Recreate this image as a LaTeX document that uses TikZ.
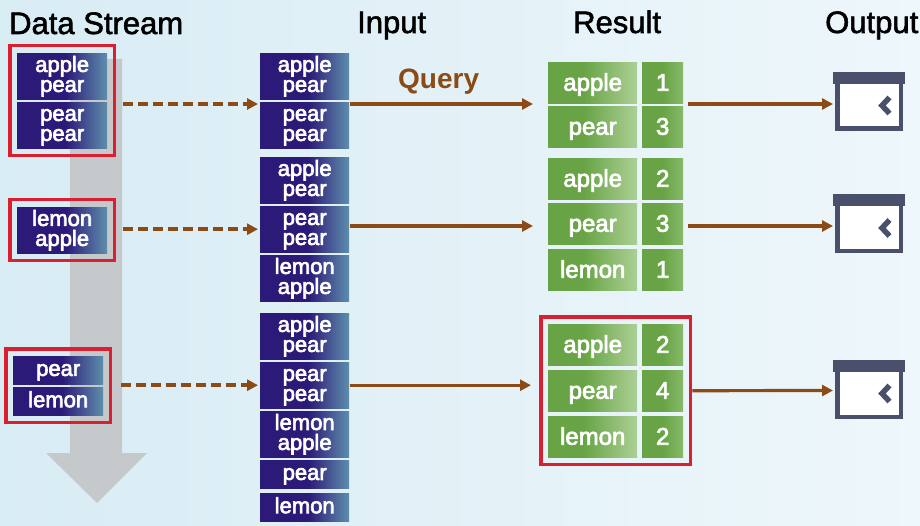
\documentclass[tikz,border=0pt]{standalone}
\usepackage{fontspec}
\setmainfont{Liberation Sans}
\newfontfamily\medfont{Liberation Sans}[FakeBold=3]
\newfontfamily\titfont{Liberation Sans}[FakeBold=1.8]
\usetikzlibrary{arrows.meta,calc,fit}
\definecolor{indigo}{RGB}{44,26,120}
\definecolor{tealb}{RGB}{94,142,172}
\definecolor{grn}{RGB}{104,164,70}
\definecolor{grnlight}{RGB}{172,208,150}
\definecolor{grnnum}{RGB}{134,186,104}
\definecolor{redf}{RGB}{218,32,48}
\definecolor{brownc}{RGB}{139,74,22}
\definecolor{grayarrow}{RGB}{196,198,200}
\definecolor{iconcol}{RGB}{74,80,108}
\definecolor{bgL}{RGB}{216,236,244}
\definecolor{bgR}{RGB}{238,247,251}
\pgfdeclarehorizontalshading{blueshade}{100bp}{color(0bp)=(indigo); color(52bp)=(indigo); color(75bp)=(tealb); color(100bp)=(tealb)}
\pgfdeclarehorizontalshading{greenshade}{100bp}{color(0bp)=(grn); color(45bp)=(grn); color(75bp)=(grnlight); color(100bp)=(grnlight)}
\pgfdeclarehorizontalshading{numshade}{100bp}{color(0bp)=(grn); color(50bp)=(grn); color(75bp)=(grnnum); color(100bp)=(grnnum)}
\newcommand\tp{\rule{0pt}{16pt}}
\newcommand\bt{\rule[-4pt]{0pt}{4pt}}
\tikzset{
  bluebox/.style={shade, shading=blueshade, text=white, font=\fontsize{22}{20}\selectfont\medfont,
    align=center, inner sep=0pt, minimum width=89, minimum height=46, anchor=north west},
  blueone/.style={bluebox, minimum height=28},
  dsbox/.style={bluebox, minimum width=90},
  wordbox/.style={shade, shading=greenshade, text=white, font=\fontsize{24}{24}\selectfont\medfont,
    inner sep=0pt, text height=18pt, text depth=2pt, minimum width=89, minimum height=41, anchor=north west},
  numbox/.style={wordbox, shading=numshade, minimum width=41},
  redframe/.style={draw=redf, line width=3.5pt, inner sep=7.25pt},
  title/.style={font=\fontsize{31}{31}\selectfont\titfont, anchor=base west, inner sep=0pt},
  dasharr/.style={draw=brownc, line width=3.5pt, dash pattern=on 10pt off 5pt,
    -{Triangle[length=11pt,width=11pt]}},
  solidarr/.style={draw=brownc, line width=3.2pt, -{Triangle[length=11pt,width=11pt]}},
  icon/.style={draw=iconcol, line width=4.5pt, fill=white, minimum width=63.5,
    minimum height=52.5, inner sep=0pt},
  chev/.style={draw=iconcol, line width=5.5pt, line join=miter}
}
\begin{document}
\begin{tikzpicture}[x=1pt,y=-1pt]
\useasboundingbox (0,0) rectangle (920,526);
\shade[left color=bgL, right color=bgR] (0,0) rectangle (920,526);

% titles
\node[title] (t1) at (9,34) {Data Stream};
\node[title] (t2) at (357,33) {Input};
\node[title] (t3) at (573,33) {Result};
\node[title] (t4) at (825,33) {Output};

% gray stream arrow
\fill[grayarrow, opacity=0.9] (70,59) -- (122,59) -- (122,453) -- (147,453) -- (97,503) -- (46,453) -- (70,453) -- cycle;

% data stream
\node[dsbox] (d1a) at (17,53) {\tp apple\\pear\bt};
\node[dsbox] (d1b) at (17,102) {\tp pear\\pear\bt};
\node[dsbox] (d2a) at (17,207) {\tp lemon\\apple\bt};
\node[dsbox, minimum height=28] (d3a) at (13,356) {\tp pear\bt};
\node[dsbox, minimum height=28] (d3b) at (13,387) {\tp lemon\bt};
\node[redframe, fit=(d1a)(d1b)] (r1) {};
\node[redframe, fit=(d2a)] (r2) {};
\node[redframe, fit=(d3a)(d3b)] (r3) {};

% input
\node[bluebox] (i1a) at (260,53) {\tp apple\\pear\bt};
\node[bluebox] (i1b) at (260,102) {\tp pear\\pear\bt};
\node[bluebox] (i2a) at (260,157) {\tp apple\\pear\bt};
\node[bluebox] (i2b) at (260,206) {\tp pear\\pear\bt};
\node[bluebox] (i2c) at (260,255) {\tp lemon\\apple\bt};
\node[bluebox] (i3a) at (260,313) {\tp apple\\pear\bt};
\node[bluebox] (i3b) at (260,362) {\tp pear\\pear\bt};
\node[bluebox] (i3c) at (260,411) {\tp lemon\\apple\bt};
\node[blueone] (i3d) at (260,460) {\tp pear\bt};
\node[blueone] (i3e) at (260,493) {\tp lemon\bt};

\node[font=\bfseries\fontsize{28}{28}\selectfont, text=brownc, anchor=base west, inner sep=0pt] (q) at (398,89) {Query};

% results
\node[wordbox] (w1a) at (548,62) {apple};
\node[numbox]  (n1a) at (642,62) {1};
\node[wordbox] (w1b) at (548,106) {pear};
\node[numbox]  (n1b) at (642,106) {3};
\node[wordbox] (w2a) at (548,158) {apple};
\node[numbox]  (n2a) at (642,158) {2};
\node[wordbox] (w2b) at (548,203) {pear};
\node[numbox]  (n2b) at (642,203) {3};
\node[wordbox] (w2c) at (548,249) {lemon};
\node[numbox]  (n2c) at (642,249) {1};
\node[wordbox] (w3a) at (548,324) {apple};
\node[numbox]  (n3a) at (642,324) {2};
\node[wordbox] (w3b) at (548,370) {pear};
\node[numbox]  (n3b) at (642,370) {4};
\node[wordbox] (w3c) at (548,416) {lemon};
\node[numbox]  (n3c) at (642,416) {2};
\node[redframe, fit=(w3a)(n3c)] (R3) {};

% outputs
\node[icon] (o1) at (869,102.5) {};
\node[icon] (o2) at (869,225) {};
\node[icon] (o3) at (869,390.5) {};
\foreach \o in {o1,o2,o3}{
  \fill[iconcol] ($(\o.north west)+(-2.25,-2.25)$) rectangle ($(\o.north east)+(2.25,10)$);
  \draw[chev] ($(\o.center)+(20.5,-5)$) -- ($(\o.center)+(13,3)$) -- ($(\o.center)+(20.5,11)$);
}

% row coordinates
\coordinate (y1) at (0,104);
\coordinate (y2) at (0,226);

% dashed arrows
\draw[dasharr, shorten <=7pt, shorten >=2pt] (r1.east |- y1) -- (i1a.west |- y1);
\draw[dasharr, shorten <=7pt, shorten >=2pt] (r2.east |- i2b.west) -- (i2b.west);
\draw[dasharr, shorten <=9pt, shorten >=2pt] (r3.east |- i3b.west) -- (i3b.west);

% query arrows
\draw[solidarr, shorten <=1pt, shorten >=15pt] (i1a.east |- y1) -- (w1a.west |- y1);
\draw[solidarr, shorten <=1pt, shorten >=15pt] (i2b.east |- y2) -- (w2b.west |- y2);
\draw[solidarr, shorten <=1pt, shorten >=8pt] (i3b.east) -- (i3b.east -| R3.west);

% output arrows
\draw[solidarr, shorten <=5pt, shorten >=2pt] (n1a.east |- y1) -- (o1.west |- y1);
\draw[solidarr, shorten <=5pt, shorten >=2pt] (n2b.east |- y2) -- (o2.west |- y2);
\draw[solidarr, shorten <=0pt, shorten >=2pt] (R3.east) -- (o3.west);
\end{tikzpicture}
\end{document}
